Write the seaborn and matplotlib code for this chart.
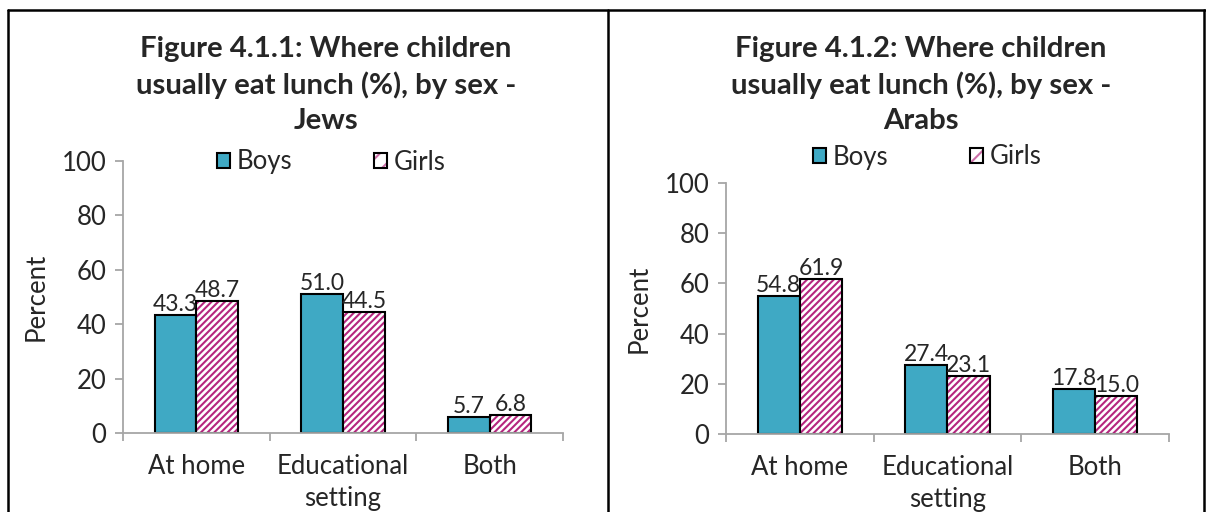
import pandas as pd
import seaborn as sns
import matplotlib.pyplot as plt
from matplotlib.patches import Patch, Rectangle
from matplotlib.lines import Line2D

places = ["At home", "Educational\nsetting", "Both"]
sexes = ["Boys", "Girls"]
jews_boys = [43.3, 51.0, 5.7]
jews_girls = [48.7, 44.5, 6.8]
arabs_boys = [54.8, 27.4, 17.8]
arabs_girls = [61.9, 23.1, 15.0]

titles = [
    "Figure 4.1.1: Where children\nusually eat lunch (%), by sex -\nJews",
    "Figure 4.1.2: Where children\nusually eat lunch (%), by sex -\nArabs",
]

teal = "#3FA9C4"
magenta = "#B5267F"
gray = "#A6A6A6"
txt = "#262626"

sns.set_theme(style="white")
plt.rcParams["font.family"] = ["Lato", "DejaVu Sans"]
plt.rcParams["hatch.linewidth"] = 1.5


def long_df(boys, girls):
    rows = []
    for p, b, g in zip(places, boys, girls):
        rows.append({"place": p, "sex": "Boys", "pct": b})
        rows.append({"place": p, "sex": "Girls", "pct": g})
    return pd.DataFrame(rows)


fig = plt.figure(figsize=(12.06, 5.12), dpi=100)

# data, axes rect, title x (px), legend centre (px)
panels = [
    (long_df(jews_boys, jews_girls), [0.102, 0.1543, 0.3648, 0.5312], 326, (331, 162)),
    (long_df(arabs_boys, arabs_girls), [0.602, 0.1523, 0.3673, 0.4902], 921, (927, 157)),
]

fs = 18.5

for (df, pos, tx, leg), title in zip(panels, titles):
    ax = fig.add_axes(pos)
    sns.barplot(data=df, x="place", y="pct", hue="sex", order=places,
                hue_order=sexes, palette=[teal, "white"], width=0.57,
                edgecolor="black", linewidth=1.5, saturation=1, ax=ax,
                legend=False)
    for c in ax.containers:
        ax.bar_label(c, fmt="%.1f", padding=0, fontsize=16.5, color=txt)
    # girls bars: magenta hatch with black outline on top
    for p in ax.containers[1]:
        p.set_edgecolor(magenta)
        p.set_hatch("/////")
        p.set_linewidth(0)
        ax.add_patch(Rectangle(p.get_xy(), p.get_width(), p.get_height(),
                               fill=False, edgecolor="black", linewidth=1.5))
    ax.set_ylim(0, 100)
    ax.set_xlim(-0.5, 2.5)
    ax.set_yticks([0, 20, 40, 60, 80, 100])
    ax.set_xticks([-0.5, 0.5, 1.5, 2.5], minor=True)
    ax.tick_params(axis="x", which="major", length=0, pad=15, labelsize=fs,
                   labelcolor=txt)
    for lab in ax.get_xticklabels():
        lab.set_linespacing(1.35)
    ax.tick_params(axis="x", which="minor", length=6, width=1.3, color=gray,
                   direction="out", bottom=True)
    ax.tick_params(axis="y", length=6, width=1.3, color=gray, direction="out",
                   left=True, labelsize=fs, labelcolor=txt, pad=6)
    ax.set_xlabel("")
    ax.set_ylabel("Percent", fontsize=fs, color=txt, labelpad=9)
    for s in ["top", "right"]:
        ax.spines[s].set_visible(False)
    for s in ["left", "bottom"]:
        ax.spines[s].set_color(gray)
        ax.spines[s].set_linewidth(1.3)

    fig.text(tx / 1206, 1 - 85 / 512, title, ha="center", va="center",
             multialignment="center", fontsize=21.2, fontweight="bold",
             color=txt, linespacing=1.4)

    handles = [
        Patch(facecolor=teal, edgecolor="black", linewidth=1.5),
        (Patch(facecolor="white", edgecolor="#CC6FA8", hatch="//", linewidth=0),
         Patch(fill=False, edgecolor="black", linewidth=1.5)),
    ]
    fig.legend(handles, sexes, loc="center",
               bbox_to_anchor=(leg[0] / 1206, 1 - leg[1] / 512),
               ncol=2, frameon=False, fontsize=fs, handlelength=0.5,
               handleheight=0.5, handletextpad=0.25, columnspacing=3.2,
               labelcolor=txt)

# panel frame lines
for xs, ys in [((8, 1206), (10, 10)), ((8, 8), (10, 512)),
               ((608, 608), (10, 512)), ((1204, 1204), (10, 512))]:
    fig.add_artist(Line2D([x / 1206 for x in xs], [1 - y / 512 for y in ys],
                          color="black", linewidth=1.8))

fig.savefig("out.png", dpi=100)
